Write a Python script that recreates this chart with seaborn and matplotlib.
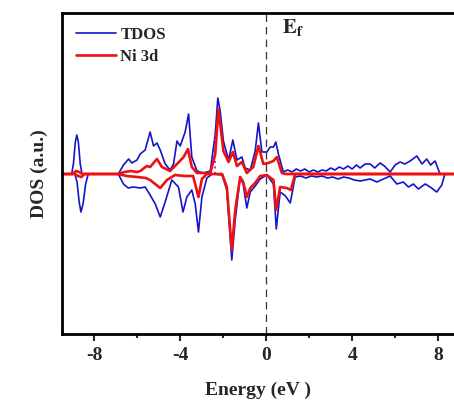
import matplotlib
matplotlib.use("Agg")
import matplotlib.pyplot as plt
import matplotlib.ticker as ticker
import seaborn as sns

# Energy grid points (eV) and DOS values (a.u.)
tdos_up_e = [-9.5, -9.05, -8.97, -8.88, -8.81, -8.74, -8.65, -8.57,
             -6.88, -6.64, -6.40, -6.25, -6.01, -5.86, -5.63, -5.40, -5.24, -5.08,
             -4.93, -4.70, -4.47, -4.31, -4.15, -4.00, -3.77, -3.61, -3.46, -3.22,
             -2.92, -2.60, -2.37, -2.25, -2.14, -1.99, -1.75, -1.55, -1.36, -1.13,
             -0.98, -0.74, -0.51, -0.36, -0.20, 0.03, 0.19, 0.34, 0.45, 0.57,
             0.80, 1.00, 1.20, 1.40, 1.60, 1.80, 2.00, 2.20, 2.40, 2.60, 2.80,
             3.00, 3.20, 3.40, 3.60, 3.80, 4.00, 4.20, 4.37, 4.60, 4.84, 5.05,
             5.30, 5.50, 5.77, 6.00, 6.23, 6.45, 6.70, 7.01, 7.25, 7.47, 7.65,
             7.86, 8.09, 8.74]
tdos_up = [0, 0, 1.0, 3.2, 3.9, 3.2, 1.0, 0,
           0, 0.9, 1.5, 1.1, 1.4, 2.0, 2.4, 4.2, 2.8, 3.1,
           2.4, 1.0, 0.4, 1.0, 3.3, 2.8, 4.2, 6.0, 1.7, 0.3,
           0.1, 0.3, 4.0, 7.6, 6.3, 3.3, 1.4, 3.4, 1.4, 1.7,
           0.6, 0.4, 2.3, 5.1, 2.2, 2.2, 2.7, 2.7, 3.2, 2.0,
           0.2, 0.4, 0.2, 0.5, 0.3, 0.5, 0.2, 0.4, 0.2, 0.4, 0.3,
           0.6, 0.4, 0.7, 0.5, 0.8, 0.5, 0.9, 0.6, 1.0, 1.0, 0.6,
           1.1, 0.8, 0.2, 0.9, 1.2, 1.0, 1.3, 1.8, 1.0, 1.5, 0.9,
           1.3, 0, 0]

tdos_dn_e = [-9.5, -8.90, -8.80, -8.70, -8.62, -8.52, -8.40, -8.28,
             -6.88, -6.64, -6.42, -6.19, -5.86, -5.63, -5.40, -5.16, -4.93, -4.70,
             -4.39, -4.08, -3.87, -3.69, -3.46, -3.30, -3.15, -2.99, -2.76, -2.51,
             -2.05, -1.83, -1.60, -1.44, -1.21, -1.07, -0.90, -0.74, -0.51, -0.28,
             0.03, 0.34, 0.47, 0.65, 0.90, 1.12, 1.35, 1.60, 1.85, 2.10, 2.35,
             2.60, 2.85, 3.10, 3.35, 3.60, 3.85, 4.10, 4.37, 4.84, 5.15, 5.77,
             6.08, 6.38, 6.62, 6.85, 7.08, 7.40, 7.63, 7.94, 8.17, 8.32, 8.74]
tdos_dn = [0, 0, -0.8, -2.8, -3.8, -3.0, -1.0, 0,
           0, -1.0, -1.4, -1.3, -1.4, -1.3, -2.1, -3.0, -4.3, -2.8,
           -0.6, -1.3, -3.8, -2.3, -1.6, -3.0, -5.8, -2.3, -0.4, 0,
           -0.1, -1.6, -8.6, -4.6, -0.3, -1.0, -3.4, -1.8, -1.2, -0.5,
           -0.1, -1.0, -5.5, -1.8, -2.2, -2.9, -0.3, -0.2, -0.4, -0.2, -0.3,
           -0.2, -0.4, -0.3, -0.5, -0.3, -0.4, -0.6, -0.7, -0.5, -0.8, -0.2,
           -1.0, -0.8, -1.3, -1.0, -1.5, -1.0, -1.3, -1.8, -1.1, 0, 0]

ni_up_e = [-9.5, -9.0, -8.85, -8.70, -8.55, -6.88, -6.60, -6.30, -6.00, -5.86,
           -5.55, -5.40, -5.08, -4.85, -4.47, -4.15, -3.84, -3.64, -3.46, -3.22,
           -2.60, -2.37, -2.22, -1.99, -1.75, -1.55, -1.36, -1.13, -0.90, -0.60,
           -0.36, -0.13, 0.10, 0.34, 0.50, 0.73, 0.90, 8.74]
ni_up = [0, 0, 0.3, 0.2, 0, 0, 0.2, 0.3, 0.2, 0.3,
         0.8, 0.7, 1.5, 0.7, 0.3, 1.0, 1.7, 2.5, 0.7, 0.1,
         0.1, 2.0, 6.5, 2.3, 1.2, 2.2, 0.8, 1.2, 0.1, 0.7,
         2.8, 1.0, 1.1, 1.3, 1.7, 0.1, 0, 0]

ni_dn_e = [-9.5, -8.90, -8.75, -8.60, -8.45, -6.88, -6.50, -6.00, -5.60, -5.40,
           -4.93, -4.62, -4.24, -3.80, -3.40, -3.15, -2.99, -2.76, -2.05, -1.83,
           -1.60, -1.44, -1.21, -1.07, -0.90, -0.74, -0.51, -0.28, 0.03, 0.34,
           0.47, 0.65, 0.96, 1.15, 1.35, 8.74]
ni_dn = [0, 0, -0.2, -0.3, 0, 0, -0.2, -0.3, -0.4, -0.6,
         -1.4, -0.6, -0.1, -0.2, -0.2, -2.3, -0.5, 0, 0, -1.3,
         -7.6, -3.6, -0.3, -0.8, -2.3, -1.4, -0.9, -0.2, -0.1, -0.6,
         -3.6, -1.3, -1.4, -1.6, 0, 0]

# dotted magenta spike left in the original plot
spike_e = -2.37
spike_top = 4.3

sns.set_style("ticks")
plt.rcParams['font.family'] = ['Liberation Serif', 'DejaVu Serif']
plt.rcParams['font.weight'] = 'bold'
plt.rcParams['mathtext.fontset'] = 'stix'
plt.rcParams['axes.unicode_minus'] = False

fig = plt.figure(figsize=(4.54, 4.08), dpi=100)
ax = fig.add_axes([62 / 454, 1 - 334 / 408, 1 - 62 / 454, (334 - 13) / 408])

blue = '#1414c8'
red = '#ee1111'

sns.lineplot(x=tdos_up_e, y=tdos_up, ax=ax, color=blue, lw=1.2, sort=False)
sns.lineplot(x=tdos_dn_e, y=tdos_dn, ax=ax, color=blue, lw=1.2, sort=False)
ax.vlines(spike_e, 0, spike_top, colors='#cc33cc', linestyles=':', lw=1.5)
sns.lineplot(x=ni_up_e, y=ni_up, ax=ax, color=red, lw=1.9, sort=False)
sns.lineplot(x=ni_dn_e, y=ni_dn, ax=ax, color=red, lw=1.9, sort=False)

# Fermi level
ax.axvline(0, color='#333333', ls=(0, (6, 4)), lw=0.9)
ax.text(0.74, 14.6, r'$\mathbf{E}_\mathbf{f}$', fontsize=15, va='center')

ax.set_xlim(-9.5, 8.74)
ax.set_ylim(-16.0, 16.1)

# Legend
h1, = ax.plot([], [], color=blue, lw=1.2)
h2, = ax.plot([], [], color=red, lw=1.9)
ax.legend([h1, h2], ['TDOS', 'Ni 3d'], loc='upper left', frameon=False,
          prop={'weight': 'bold', 'size': 12}, handlelength=2.4,
          borderaxespad=0.45, labelspacing=0.35, handletextpad=0.25)

ax.xaxis.set_major_locator(ticker.MultipleLocator(4))
ax.xaxis.set_minor_locator(ticker.MultipleLocator(2))
ax.tick_params(axis='x', which='major', direction='out', length=5, width=1.5,
               labelsize=14, pad=4)
ax.tick_params(axis='x', which='minor', direction='out', length=3, width=1.5)
ax.set_yticks([])
for lab in ax.get_xticklabels():
    lab.set_fontweight('bold')

for side in ['left', 'top', 'bottom']:
    ax.spines[side].set_linewidth(2)
    ax.spines[side].set_color('black')
ax.spines['right'].set_visible(False)

ax.set_xlabel('Energy (eV )', fontsize=14, fontweight='bold', labelpad=13)
ax.set_ylabel('DOS (a.u.)', fontsize=14, fontweight='bold', labelpad=10)

fig.savefig('out.png', dpi=100)
